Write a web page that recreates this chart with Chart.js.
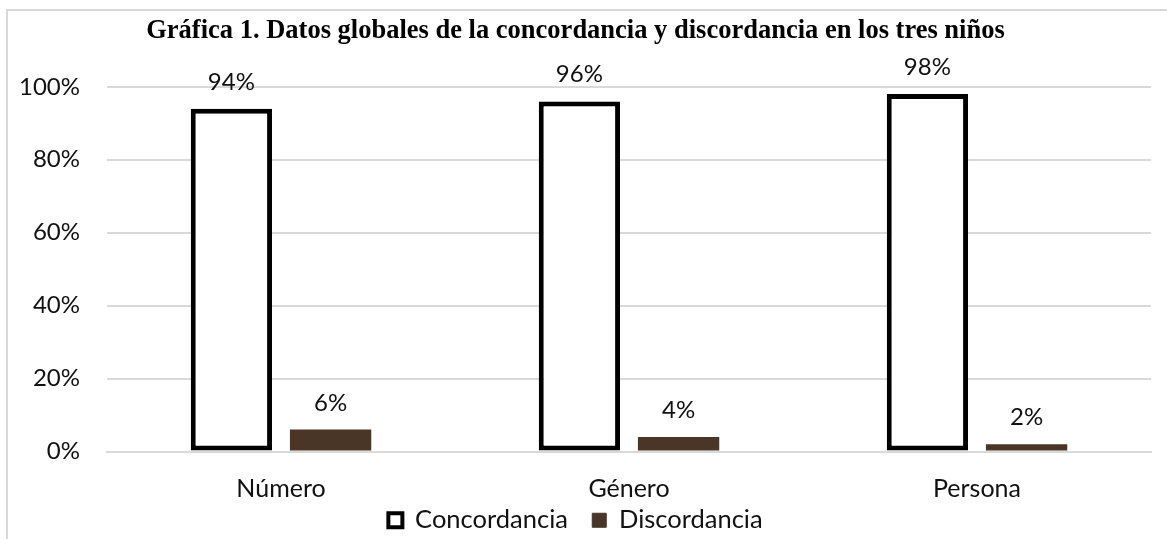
<!DOCTYPE html>
<html>
<head>
<meta charset="utf-8">
<script src="https://cdn.jsdelivr.net/npm/chart.js@4.4.0/dist/chart.umd.min.js"></script>
<style>
  html, body { margin: 0; padding: 0; background: #fff; }
  #wrap { position: relative; width: 1167px; height: 539px; overflow: hidden; }
  #frame { position: absolute; left: 6px; top: 9px; width: 1200px; height: 600px;
           border: 2px solid #d9d9d9; box-sizing: border-box; pointer-events: none; }
  canvas { position: absolute; left: 0; top: 0; }
</style>
</head>
<body>
<div id="wrap">
  <div id="frame"></div>
  <canvas id="grafica" width="1167" height="539"></canvas>
</div>
<script>
const categorias = ['Número', 'Género', 'Persona'];
const concordancia = [94, 96, 98];
const discordancia = [6, 4, 2];
const yTicks = [0, 20, 40, 60, 80, 100];

const fuente = 'Lato, "Noto Sans", sans-serif';
const marron = '#4a3627';

// writes the percentage above every bar
const etiquetasValor = {
    id: 'etiquetasValor',
    afterDatasetsDraw(chart) {
        const ctx = chart.ctx;
        ctx.save();
        ctx.font = '24px ' + fuente;
        ctx.fillStyle = '#111';
        ctx.textAlign = 'center';
        ctx.textBaseline = 'alphabetic';
        chart.data.datasets.forEach((ds, i) => {
            chart.getDatasetMeta(i).data.forEach((bar, j) => {
                ctx.fillText(ds.data[j] + '%', bar.x, bar.y - 19);
            });
        });
        ctx.restore();
    }
};

const ctx = document.getElementById('grafica').getContext('2d');
new Chart(ctx, {
    type: 'bar',
    data: {
        labels: categorias,
        datasets: [
            {
                label: 'Concordancia',
                data: concordancia,
                backgroundColor: '#ffffff',
                borderColor: '#000000',
                borderWidth: 5,
                borderSkipped: false
            },
            {
                label: 'Discordancia',
                data: discordancia,
                backgroundColor: marron,
                borderWidth: 0
            }
        ]
    },
    options: {
        responsive: false,
        animation: false,
        categoryPercentage: 0.57,
        barPercentage: 0.82,
        layout: { padding: { left: 0, right: 16, top: 10, bottom: -4 } },
        plugins: {
            title: {
                display: true,
                text: 'Gráfica 1. Datos globales de la concordancia y discordancia en los tres niños',
                color: '#000',
                font: { family: '"Liberation Serif", "Times New Roman", serif', size: 26.5, weight: 'bold' },
                padding: { top: 5, bottom: 40 }
            },
            legend: {
                position: 'bottom',
                labels: {
                    color: '#111',
                    font: { family: fuente, size: 25.5 },
                    boxWidth: 14,
                    boxHeight: 14,
                    padding: 2,
                    generateLabels(chart) {
                        // em space keeps the two entries apart without a tall legend box
                        return chart.data.datasets.map((ds, i) => ({
                            text: i === 0 ? ds.label + '\u2003\u2009' : ds.label,
                            fillStyle: ds.backgroundColor,
                            strokeStyle: i === 0 ? '#000' : marron,
                            lineWidth: i === 0 ? 4 : 1,
                            datasetIndex: i,
                            fontColor: '#111'
                        }));
                    }
                }
            },
            tooltip: { enabled: false }
        },
        scales: {
            x: {
                grid: { display: false, drawTicks: false },
                border: { color: '#d9d9d9', width: 2 },
                ticks: { color: '#111', font: { family: fuente, size: 25 }, padding: 22 },
                afterFit(axis) { axis.height = 54; }
            },
            y: {
                min: 0,
                max: 100,
                afterBuildTicks(axis) {
                    axis.ticks = yTicks.map(v => ({ value: v }));
                },
                afterFit(axis) { axis.width = 107; },
                grid: { color: '#d9d9d9', lineWidth: 2, drawTicks: false },
                border: { display: false },
                ticks: {
                    color: '#111',
                    font: { family: fuente, size: 24 },
                    padding: 27,
                    callback: v => v + '%'
                }
            }
        }
    },
    plugins: [etiquetasValor]
});
</script>
</body>
</html>
